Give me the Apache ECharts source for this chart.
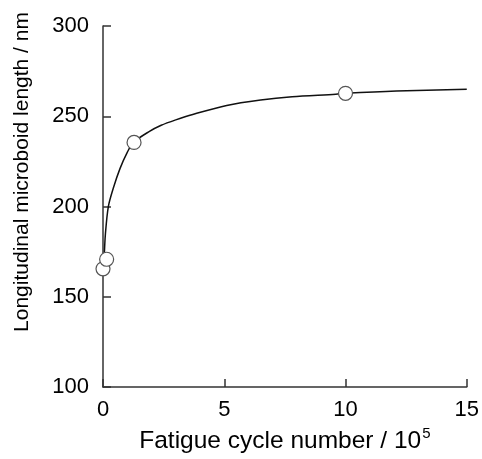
<!DOCTYPE html>
<html>
<head>
<meta charset="utf-8">
<script src="https://cdn.jsdelivr.net/npm/echarts@6/dist/echarts.min.js"></script>
<style>html,body{margin:0;padding:0;background:#fff;}#c{width:482px;height:459px;}</style>
</head>
<body>
<div id="c"></div>
<script>
var xTicks = [0, 5, 10, 15];
var yTicks = [100, 150, 200, 250, 300];
var measuredX = [0, 0.15, 1.28, 10];
var measuredY = [165.5, 170.8, 235.5, 262.7];
var fitX = [0.05, 0.1, 0.22, 0.42, 0.7, 1.0, 1.25, 1.9, 2.4, 3.0, 3.7, 5.1, 6.5, 7.8, 9.6, 10, 12.1, 15];
var fitY = [172, 185, 200, 210, 221, 230, 235.5, 241.5, 245, 248, 251, 256, 259, 260.8, 262.2, 262.7, 264, 265];
var xName = 'Fatigue cycle number / 10';
var xNameSup = '5';
var yName = 'Longitudinal microboid length / nm';

var fitData = fitX.map(function (x, i) { return [x, fitY[i]]; });
var ptData = measuredX.map(function (x, i) { return [x, measuredY[i]]; });
var font = 'Liberation Sans, Arial, sans-serif';
var chart = echarts.init(document.getElementById('c'));
chart.setOption({
  animation: false,
  grid: { left: 103, right: 15, top: 26, bottom: 68 },
  xAxis: {
    type: 'value', min: xTicks[0], max: xTicks[xTicks.length - 1], interval: 5,
    name: '{main|' + xName + '}{sup|' + xNameSup + '}',
    nameLocation: 'middle', nameGap: 29,
    nameTextStyle: { fontFamily: font, fontSize: 24, color: '#000',
      rich: {
        main: { fontFamily: font, fontSize: 24.5, color: '#000' },
        sup: { fontFamily: font, fontSize: 15, color: '#000', padding: [0, 0, 16, 1] }
      } },
    axisLine: { lineStyle: { color: '#333', width: 1.5 } },
    axisTick: { inside: true, length: 8, lineStyle: { color: '#333', width: 1.5 } },
    axisLabel: { fontFamily: font, fontSize: 22, color: '#000', margin: 12 },
    splitLine: { show: false }
  },
  yAxis: {
    type: 'value', min: yTicks[0], max: yTicks[yTicks.length - 1], interval: 50,
    axisLine: { show: true, lineStyle: { color: '#333', width: 1.5 } },
    axisTick: { show: true, inside: true, length: 8, lineStyle: { color: '#333', width: 1.5 } },
    axisLabel: { fontFamily: font, fontSize: 22, color: '#000', margin: 14 },
    splitLine: { show: false }
  },
  graphic: [{
    type: 'text', x: 22, y: 172, rotation: Math.PI / 2,
    style: { text: yName, font: '21px ' + font, fill: '#000', align: 'center', verticalAlign: 'middle' }
  }],
  series: [{
    type: 'line', data: fitData, showSymbol: false, smooth: 0.3,
    lineStyle: { color: '#111', width: 1.5 }, z: 2
  }, {
    type: 'scatter', data: ptData, symbol: 'circle', symbolSize: 14,
    itemStyle: { color: '#fff', borderColor: '#555', borderWidth: 1.2, opacity: 1 }, z: 3
  }]
});
</script>
</body>
</html>
